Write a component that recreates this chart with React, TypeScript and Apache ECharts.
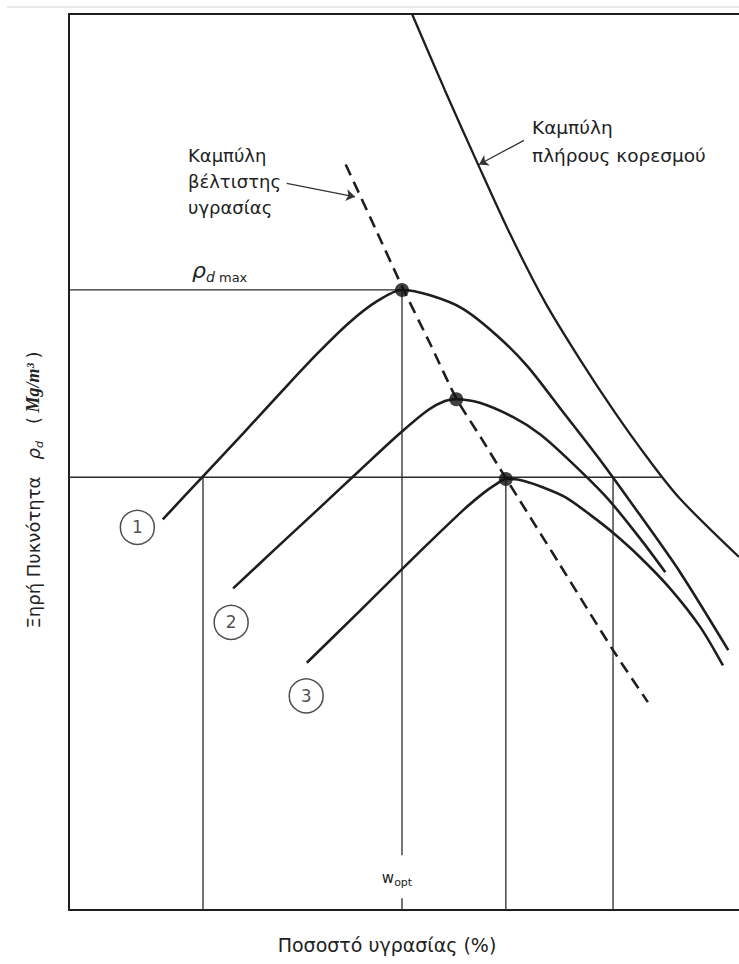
import { useEffect, useRef } from "react";
import * as echarts from "echarts";

// Relative units: x = water content (0–100 across the frame), y = dry density (0–100 across the frame)
const curve1X = [14.0, 20.0, 26.0, 31.9, 37.2, 41.9, 46.1, 49.7, 53.9, 58.8, 63.9, 68.4, 73.3, 79.3, 85.2, 91.2, 98.4];
const curve1Y = [43.6, 48.4, 53.2, 58.0, 62.2, 65.6, 68.0, 69.2, 68.6, 67.1, 64.1, 60.7, 56.0, 50.2, 44.1, 37.7, 29.0];
const curve2X = [24.5, 30.8, 37.0, 43.3, 49.4, 53.6, 56.1, 57.8, 61.3, 66.3, 70.3, 74.8, 80.3, 85.2, 89.0];
const curve2Y = [35.9, 40.3, 44.6, 49.0, 53.2, 55.8, 56.8, 57.0, 56.6, 55.0, 53.1, 50.1, 46.0, 41.5, 37.7];
const curve3X = [35.5, 43.3, 51.0, 58.8, 61.8, 63.7, 65.2, 67.3, 70.3, 74.0, 77.8, 81.2, 85.2, 89.7, 94.2, 97.6];
const curve3Y = [27.6, 33.3, 39.0, 44.6, 46.5, 47.5, 48.1, 48.0, 47.3, 46.1, 44.1, 42.1, 39.4, 35.9, 31.6, 27.3];
const saturationX = [51.2, 56.1, 61.0, 65.8, 71.0, 76.3, 81.5, 86.3, 91.2, 100];
const saturationY = [100, 91.5, 83.3, 75.5, 67.9, 61.4, 55.5, 50.5, 45.9, 39.4];
const optimumX = [41.3, 45.7, 49.7, 53.9, 57.8, 61.5, 65.2, 73.3, 81.2, 86.4];
const optimumY = [83.2, 76.1, 69.6, 63.2, 57.1, 52.7, 48.2, 38.5, 29.0, 23.2];
const peakX = [49.7, 57.8, 65.2];
const peakY = [69.2, 57.0, 48.1];
const curveNames = ["1", "2", "3"];
const curveLabelX = [10.2, 24.2, 35.4];
const curveLabelY = [42.7, 32.1, 23.9];
const rhoDMax = 69.2;
const rhoLevel = 48.3;
const wDry = 20.0;
const wOpt = 49.7;
const wWet = 81.2;
const wSat = 88.4;
const wOptLineBottom = 6.1;
const wOptTickTop = 1.3;
const arrowOptFrom = [32.5, 81.1];
const arrowOptTo = [42.7, 79.6];
const arrowSatFrom = [67.9, 85.9];
const arrowSatTo = [61.2, 83.2];

const FONT = "'DejaVu Sans', 'Liberation Sans', sans-serif";
const INK = "#1e1e1e";

const zip = (xs: number[], ys: number[]) => xs.map((x, i) => [x, ys[i]]);

export default function App() {
  const ref = useRef<HTMLDivElement>(null);
  useEffect(() => {
    if (!ref.current) return;
    const chart = echarts.init(ref.current, undefined, { renderer: "svg" });
    const thin = { color: "#2a2a2a", width: 1.3 };
    const seg = (pts: number[][]) => ({
      type: "line",
      data: pts,
      symbol: "none",
      lineStyle: thin,
      silent: true,
      z: 1,
    });
    const curve = (xs: number[], ys: number[]) => ({
      type: "line",
      data: zip(xs, ys),
      symbol: "none",
      smooth: 0.3,
      lineStyle: { color: INK, width: 2.6 },
      silent: true,
      z: 2,
    });
    const axisCommon = {
      type: "value",
      min: 0,
      max: 100,
      axisTick: { show: false },
      axisLabel: { show: false },
      splitLine: { show: false },
    };
    const option: any = {
      animation: false,
      backgroundColor: "#ffffff",
      grid: { left: 69, right: 0, top: 14, bottom: 54 },
      xAxis: [
        { ...axisCommon, position: "bottom", axisLine: { show: true, onZero: false, lineStyle: { color: INK, width: 2 } } },
        { ...axisCommon, position: "top", axisLine: { show: true, onZero: false, lineStyle: { color: INK, width: 2 } } },
      ],
      yAxis: { ...axisCommon, axisLine: { show: true, onZero: false, lineStyle: { color: INK, width: 2 } } },
      series: [
        seg([[0, rhoDMax], [wOpt, rhoDMax]]),
        seg([[wOpt, rhoDMax], [wOpt, wOptLineBottom]]),
        seg([[wOpt, wOptTickTop], [wOpt, 0]]),
        seg([[0, rhoLevel], [wSat, rhoLevel]]),
        seg([[wDry, rhoLevel], [wDry, 0]]),
        seg([[peakX[2], peakY[2]], [peakX[2], 0]]),
        seg([[wWet, rhoLevel], [wWet, 0]]),
        curve(curve1X, curve1Y),
        curve(curve2X, curve2Y),
        curve(curve3X, curve3Y),
        {
          type: "line",
          data: zip(saturationX, saturationY),
          symbol: "none",
          smooth: 0.3,
          lineStyle: { color: INK, width: 2.3 },
          silent: true,
          z: 2,
          markLine: {
            silent: true,
            symbol: ["none", "arrow"],
            symbolSize: 9,
            label: { show: false },
            lineStyle: { type: "solid", color: "#333", width: 1.3 },
            data: [
              [{ coord: arrowOptFrom }, { coord: arrowOptTo }],
              [{ coord: arrowSatFrom }, { coord: arrowSatTo }],
            ],
          },
        },
        {
          type: "line",
          data: zip(optimumX, optimumY),
          symbol: "none",
          smooth: 0.2,
          lineStyle: { color: INK, width: 2.6, type: [12, 7] },
          silent: true,
          z: 2,
        },
        {
          type: "scatter",
          data: zip(peakX, peakY),
          symbol: "circle",
          symbolSize: 14,
          itemStyle: { color: "#111" },
          silent: true,
          z: 3,
        },
        {
          type: "scatter",
          data: curveNames.map((n, i) => ({ name: n, value: [curveLabelX[i], curveLabelY[i]] })),
          symbol: "circle",
          symbolSize: 34,
          itemStyle: { color: "#fff", borderColor: "#222", borderWidth: 1.5 },
          label: {
            show: true,
            position: "inside",
            formatter: "{b}",
            fontSize: 17,
            fontFamily: FONT,
            color: "#222",
          },
          silent: true,
          z: 3,
        },
      ],
      graphic: [
        { type: "line", shape: { x1: 7, y1: 7, x2: 739, y2: 7 }, style: { stroke: "#e4e4e4", lineWidth: 1.5 } },
        {
          type: "text",
          x: 188,
          y: 181,
          style: {
            text: "Καμπύλη\nβέλτιστης\nυγρασίας",
            fontSize: 18,
            fontFamily: FONT,
            fill: "#222",
            lineHeight: 26,
            textAlign: "left",
            align: "left",
            textVerticalAlign: "middle",
            verticalAlign: "middle",
          },
        },
        {
          type: "text",
          x: 532,
          y: 141,
          style: {
            text: "Καμπύλη\nπλήρους κορεσμού",
            fontSize: 18.5,
            fontFamily: FONT,
            fill: "#222",
            lineHeight: 28,
            textAlign: "left",
            align: "left",
            textVerticalAlign: "middle",
            verticalAlign: "middle",
          },
        },
        {
          type: "text",
          x: 192,
          y: 270,
          style: {
            text: "{r|ρ}{d|d}{m| max}",
            fill: "#222",
            textAlign: "left",
            align: "left",
            textVerticalAlign: "middle",
            verticalAlign: "middle",
            rich: {
              r: { fontSize: 22, fontStyle: "italic", fontFamily: FONT, fill: "#222", lineHeight: 28 },
              d: { fontSize: 14, fontStyle: "italic", fontFamily: FONT, fill: "#222", lineHeight: 14, verticalAlign: "bottom" },
              m: { fontSize: 13, fontFamily: FONT, fill: "#222", lineHeight: 14, verticalAlign: "bottom" },
            },
          },
        },
        {
          type: "text",
          x: 397,
          y: 878,
          style: {
            text: "{w|w}{o|opt}",
            fill: "#222",
            textAlign: "center",
            align: "center",
            textVerticalAlign: "middle",
            verticalAlign: "middle",
            rich: {
              w: { fontSize: 15, fontFamily: FONT, fill: "#222", lineHeight: 20 },
              o: { fontSize: 11, fontFamily: FONT, fill: "#222", lineHeight: 11, verticalAlign: "bottom" },
            },
          },
        },
        {
          type: "text",
          x: 387,
          y: 945,
          style: {
            text: "Ποσοστό υγρασίας (%)",
            fontSize: 19,
            fontFamily: FONT,
            fill: "#222",
            textAlign: "center",
            align: "center",
            textVerticalAlign: "middle",
            verticalAlign: "middle",
          },
        },
        {
          type: "text",
          x: 33,
          y: 490,
          rotation: Math.PI / 2,
          style: {
            text: "{n|Ξηρή Πυκνότητα}{s|   }{r|ρ}{d|d}{s|   }{u|(}{i| Mg/m³ }{u|)}",
            fill: "#222",
            textAlign: "center",
            align: "center",
            textVerticalAlign: "middle",
            verticalAlign: "middle",
            rich: {
              n: { fontSize: 18, fontFamily: FONT, fill: "#222", lineHeight: 24 },
              s: { fontSize: 18, fontFamily: FONT, fill: "#222", lineHeight: 24 },
              r: { fontSize: 18, fontStyle: "italic", fontFamily: FONT, fill: "#222", lineHeight: 24 },
              d: { fontSize: 11, fontStyle: "italic", fontFamily: FONT, fill: "#222", lineHeight: 11, verticalAlign: "bottom" },
              u: { fontSize: 18, fontFamily: FONT, fill: "#222", lineHeight: 24 },
              i: { fontSize: 18, fontStyle: "italic", fontWeight: "bold", fontFamily: "'Liberation Serif', serif", fill: "#222", lineHeight: 24 },
            },
          },
        },
      ],
    };
    chart.setOption(option);
    return () => chart.dispose();
  }, []);
  return (
    <div
      ref={ref}
      style={{ position: "absolute", left: 0, top: 0, width: 739, height: 964, background: "#fff" }}
    />
  );
}
